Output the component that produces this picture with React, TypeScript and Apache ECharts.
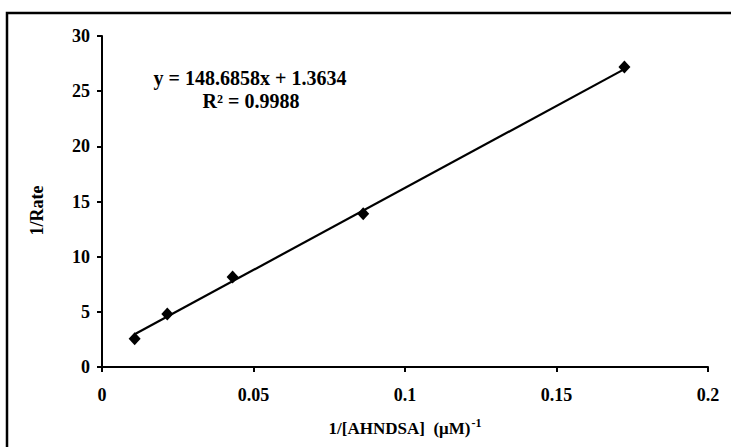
import React, { useEffect, useRef } from "react";
import * as echarts from "echarts";

const concentrations = [92.8, 46.4, 23.2, 11.6, 5.8];
const invConc = concentrations.map((c) => 1 / c);
const invRate = [2.55, 4.8, 8.15, 13.9, 27.2];
const slope = 148.6858;
const intercept = 1.3634;
const equationLines = ["y = 148.6858x + 1.3634", "R² = 0.9988"];
const xTicks = [0, 0.05, 0.1, 0.15, 0.2];
const yTicks = [0, 5, 10, 15, 20, 25, 30];

const FONT = "'Liberation Serif', 'Times New Roman', serif";

export default function App() {
  const ref = useRef<HTMLDivElement>(null);
  useEffect(() => {
    if (!ref.current) return;
    const chart = echarts.init(ref.current, null, { renderer: "svg" });
    const xmin = Math.min(...invConc);
    const xmax = Math.max(...invConc);
    const fit = [
      [xmin, slope * xmin + intercept],
      [xmax, slope * xmax + intercept],
    ];
    chart.setOption({
      animation: false,
      backgroundColor: "#fff",
      grid: { left: 102, right: 23, top: 36, bottom: 80 },
      xAxis: {
        type: "value",
        min: xTicks[0],
        max: xTicks[xTicks.length - 1],
        interval: 0.05,
        splitLine: { show: false },
        axisLine: { show: true, onZero: false, lineStyle: { color: "#000", width: 2 } },
        axisTick: { show: true, length: 5, inside: false, lineStyle: { color: "#000", width: 2 } },
        axisLabel: {
          color: "#000",
          fontFamily: FONT,
          fontWeight: "bold",
          fontSize: 18,
          margin: 19,
          formatter: (v: number) => String(Number(v.toFixed(2))),
        },
        name: "{b|1/[AHNDSA]  (μM)}{s|-1}",
        nameLocation: "middle",
        nameGap: 50,
        nameTextStyle: {
          rich: {
            b: { fontFamily: FONT, fontWeight: "bold", fontSize: 17, color: "#000" },
            s: { fontFamily: FONT, fontWeight: "bold", fontSize: 12, color: "#000", verticalAlign: "top", padding: [0, 0, 11, 1] },
          },
        },
      },
      yAxis: {
        type: "value",
        min: yTicks[0],
        max: yTicks[yTicks.length - 1],
        interval: 5,
        splitLine: { show: false },
        axisLine: { show: true, lineStyle: { color: "#000", width: 2 } },
        axisTick: { show: true, length: 5, inside: false, lineStyle: { color: "#000", width: 2 } },
        axisLabel: {
          color: "#000",
          fontFamily: FONT,
          fontWeight: "bold",
          fontSize: 18,
          margin: 12,
        },
        name: "1/Rate",
        nameLocation: "middle",
        nameGap: 56,
        nameTextStyle: { fontFamily: FONT, fontWeight: "bold", fontSize: 18, color: "#000", padding: [0, 18, 0, 0] },
      },
      graphic: [
        {
          type: "rect",
          shape: { x: 7, y: 13, width: 760, height: 460 },
          style: { fill: "none", stroke: "#000", lineWidth: 2.5 },
          silent: true,
        },
        {
          type: "text",
          x: 250,
          y: 78,
          style: {
            text: equationLines[0],
            fontFamily: FONT,
            fontWeight: "bold",
            fontSize: 20,
            fill: "#000",
            align: "center",
            verticalAlign: "middle",
          },
        },
        {
          type: "text",
          x: 251,
          y: 101,
          style: {
            text: equationLines[1],
            fontFamily: FONT,
            fontWeight: "bold",
            fontSize: 20,
            fill: "#000",
            align: "center",
            verticalAlign: "middle",
          },
        },
      ],
      series: [
        {
          type: "line",
          data: fit,
          symbol: "none",
          lineStyle: { color: "#000", width: 2.2 },
          z: 2,
        },
        {
          type: "scatter",
          data: invConc.map((x, i) => [x, invRate[i]]),
          symbol: "diamond",
          symbolSize: [12, 13],
          itemStyle: { color: "#000", opacity: 1 },
          z: 3,
        },
      ],
    });
    return () => chart.dispose();
  }, []);
  return <div ref={ref} style={{ width: 731, height: 447, position: "absolute", left: 0, top: 0 }} />;
}
